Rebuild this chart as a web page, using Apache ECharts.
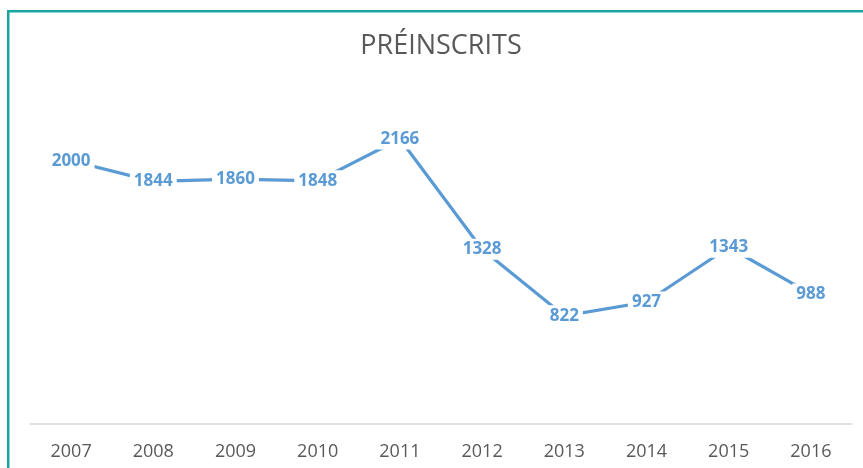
<!DOCTYPE html>
<html>
<head>
<meta charset="utf-8">
<script src="https://cdn.jsdelivr.net/npm/echarts@6/dist/echarts.min.js"></script>
<style>
  html, body { margin: 0; padding: 0; background: #fff; }
  #chart { width: 863px; height: 468px; }
</style>
</head>
<body>
<div id="chart"></div>
<script>
const years = ["2007", "2008", "2009", "2010", "2011", "2012", "2013", "2014", "2015", "2016"];
const preinscrits = [2000, 1844, 1860, 1848, 2166, 1328, 822, 927, 1343, 988];

const BLUE = "#5b9bd5";
const TEAL = "#1aa5a2";

const chart = echarts.init(document.getElementById("chart"));

chart.setOption({
  animation: false,
  backgroundColor: "#fff",
  title: {
    text: "PRÉINSCRITS",
    left: 436,
    top: 28,
    textAlign: "center",
    textStyle: {
      fontFamily: "Open Sans",
      fontSize: 27,
      fontWeight: "normal",
      color: "#595959"
    }
  },
  // frame edges visible in the crop
  graphic: [
    { type: "rect", shape: { x: 7, y: 10, width: 2.5, height: 470 }, style: { fill: TEAL } },
    { type: "rect", shape: { x: 7, y: 10, width: 870, height: 2.5 }, style: { fill: TEAL } }
  ],
  grid: { left: 30, right: 11, top: 95, bottom: 44 },
  xAxis: {
    type: "category",
    data: years,
    boundaryGap: true,
    axisLine: { lineStyle: { color: "#d9d9d9", width: 1.5 } },
    axisTick: { show: false },
    axisLabel: {
      margin: 19,
      fontFamily: "Open Sans",
      fontSize: 18,
      color: "#595959"
    }
  },
  yAxis: {
    type: "value",
    min: 0,
    max: 2500,
    show: false
  },
  series: [{
    type: "line",
    data: preinscrits,
    symbol: "circle",
    symbolSize: 2,
    showAllSymbol: true,
    itemStyle: { color: "rgba(0,0,0,0)" },
    lineStyle: { color: BLUE, width: 3.2 },
    label: {
      show: true,
      position: "inside",
      fontFamily: "Open Sans",
      fontWeight: "bold",
      fontSize: 17,
      color: BLUE,
      backgroundColor: "#fff",
      padding: [2, 4]
    }
  }]
});
</script>
</body>
</html>
